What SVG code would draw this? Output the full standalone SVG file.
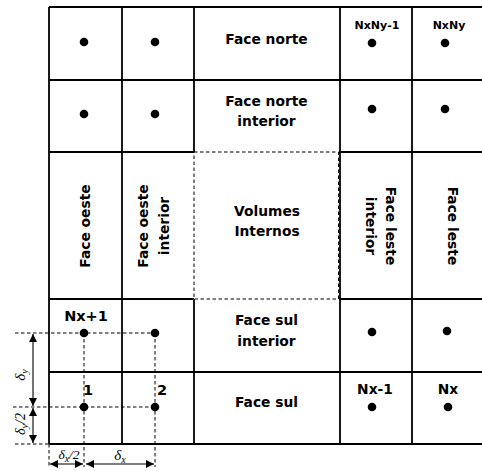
<svg xmlns="http://www.w3.org/2000/svg" width="482" height="471" viewBox="0 0 482 471">
<defs>
<style>
.g{stroke:#000;stroke-width:1.8;fill:none}
.d{stroke:#000;stroke-width:1;fill:none;stroke-dasharray:3.5,2.5}
.t{font-family:"DejaVu Sans",Verdana,sans-serif;font-weight:bold;font-size:13.8px;fill:#000;text-anchor:middle}
.s{font-family:"DejaVu Sans",Verdana,sans-serif;font-weight:bold;font-size:11px;fill:#000;text-anchor:middle}
.m{font-family:"Liberation Serif","Times New Roman",serif;font-style:italic;font-size:15px;fill:#000;text-anchor:middle}
.sub{font-size:10px}
.a{stroke:#000;stroke-width:1.1;fill:none;marker-start:url(#ah);marker-end:url(#ah)}
</style>
<marker id="ah" viewBox="0 0 10 10" refX="10" refY="5" markerWidth="10" markerHeight="8" orient="auto-start-reverse" markerUnits="userSpaceOnUse">
<path d="M0,0 L10,5 L0,10 z" fill="#000"/>
</marker>
</defs>
<rect width="482" height="471" fill="#fff"/>
<g id="grid">
<line class="g" x1="49" y1="7" x2="482" y2="7"/>
<line class="g" x1="49" y1="80" x2="482" y2="80"/>
<line class="g" x1="49" y1="152" x2="194" y2="152"/>
<line class="g" x1="339" y1="152" x2="482" y2="152"/>
<line class="g" x1="49" y1="299" x2="194" y2="299"/>
<line class="g" x1="339" y1="299" x2="482" y2="299"/>
<line class="g" x1="49" y1="372" x2="482" y2="372"/>
<line class="g" x1="49" y1="444" x2="482" y2="444"/>
<line class="g" x1="49" y1="7" x2="49" y2="444"/>
<line class="g" x1="122" y1="7" x2="122" y2="444"/>
<line class="g" x1="194" y1="7" x2="194" y2="152"/>
<line class="g" x1="194" y1="299" x2="194" y2="444"/>
<line class="g" x1="340" y1="7" x2="340" y2="444"/>
<line class="g" x1="412" y1="7" x2="412" y2="444"/>
</g>
<g id="volumes">
<rect class="d" x="194" y="152" width="144.5" height="147"/>
<text class="t" x="267" y="216">Volumes</text>
<text class="t" x="267" y="236">Internos</text>
</g>
<g id="norte">
<text class="t" x="266.5" y="44">Face norte</text>
</g>
<g id="norte-int">
<text class="t" x="266.5" y="106">Face norte</text>
<text class="t" x="266.5" y="126">interior</text>
</g>
<g id="sul-int">
<text class="t" x="266.5" y="325">Face sul</text>
<text class="t" x="266.5" y="346">interior</text>
</g>
<g id="sul">
<text class="t" x="266.5" y="407">Face sul</text>
</g>
<g id="oeste">
<text class="t" transform="translate(90,226) rotate(-90)">Face oeste</text>
</g>
<g id="oeste-int">
<text class="t" transform="translate(148,226) rotate(-90)">Face oeste</text>
<text class="t" transform="translate(169,226) rotate(-90)">interior</text>
</g>
<g id="leste-int">
<text class="t" transform="translate(386,226) rotate(90)">Face leste</text>
<text class="t" transform="translate(365.5,226) rotate(90)">interior</text>
</g>
<g id="leste">
<text class="t" transform="translate(447.5,226) rotate(90)">Face leste</text>
</g>
<g id="dots">
<circle cx="84" cy="42" r="4.3"/>
<circle cx="155" cy="42" r="4.3"/>
<circle cx="84" cy="114" r="4.3"/>
<circle cx="155" cy="114" r="4.3"/>
<circle cx="372" cy="43" r="4.3"/>
<circle cx="445" cy="43" r="4.3"/>
<circle cx="372" cy="109" r="4.3"/>
<circle cx="445" cy="109" r="4.3"/>
<circle cx="372" cy="332" r="4.3"/>
<circle cx="447" cy="331" r="4.3"/>
<circle cx="372" cy="407" r="4.3"/>
<circle cx="448" cy="407" r="4.3"/>
<circle cx="84" cy="333" r="4.3"/>
<circle cx="155" cy="333" r="4.3"/>
<circle cx="84" cy="407" r="4.3"/>
<circle cx="155" cy="407" r="4.3"/>
</g>
<g id="labels">
<text class="s" x="377" y="29">NxNy-1</text>
<text class="s" x="449" y="29">NxNy</text>
<text class="t" x="375" y="394">Nx-1</text>
<text class="t" x="448" y="394">Nx</text>
<text class="t" style="font-size:14.5px" x="86" y="321">Nx+1</text>
<text class="t" style="font-size:14.5px" x="88" y="395">1</text>
<text class="t" style="font-size:14.5px" x="162" y="395">2</text>
</g>
<g id="connectors">
<line class="d" x1="15" y1="333" x2="155" y2="333"/>
<line class="d" x1="13" y1="407" x2="155" y2="407"/>
<line class="d" x1="15" y1="444" x2="49" y2="444"/>
<line class="d" x1="84" y1="333" x2="84" y2="467"/>
<line class="d" x1="155" y1="333" x2="155" y2="467"/>
<line class="d" x1="49" y1="444" x2="49" y2="467"/>
<line class="a" x1="33" y1="334" x2="33" y2="406"/>
<line class="a" x1="33" y1="408" x2="33" y2="443"/>
<line class="a" x1="50" y1="464" x2="83" y2="464"/>
<line class="a" x1="86" y1="464" x2="154" y2="464"/>
</g>
<g id="dims">
<text class="m" transform="translate(25,375) rotate(-90)">δ<tspan class="sub" dy="3">y</tspan></text>
<text class="m" transform="translate(25,424) rotate(-90)" style="font-size:14px">δ<tspan class="sub" dy="3">y</tspan><tspan dy="-3">/2</tspan></text>
<text class="m" x="69" y="459" style="font-size:13.5px">δ<tspan class="sub" dy="3">x</tspan><tspan dy="-3">/2</tspan></text>
<text class="m" x="120" y="460">δ<tspan class="sub" dy="3">x</tspan></text>
</g>
</svg>
